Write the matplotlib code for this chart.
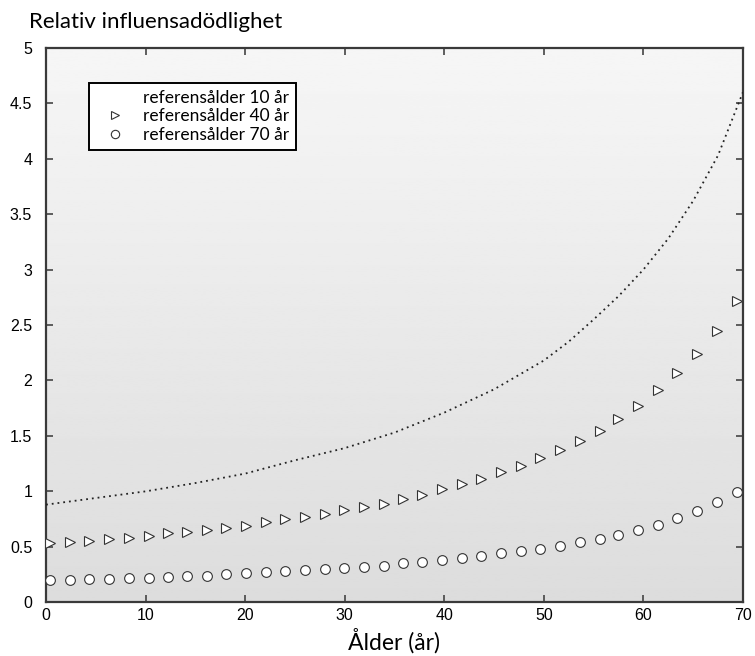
import numpy as np
import matplotlib
matplotlib.use("Agg")
import matplotlib.pyplot as plt
from matplotlib.lines import Line2D

# --- data ---
line_ages = [0, 5, 10, 15, 20, 25, 30, 35, 40, 45, 50, 52.5, 55, 57.5, 60, 62.5, 65, 67.5, 70]
ref10 = [0.88, 0.94, 1.00, 1.075, 1.16, 1.28, 1.39, 1.53, 1.71, 1.92, 2.18, 2.35,
         2.55, 2.76, 3.00, 3.28, 3.62, 4.03, 4.60]

marker_ages = [0.4, 2.4, 4.3, 6.3, 8.3, 10.3, 12.2, 14.2, 16.2, 18.1, 20.1, 22.1,
               24.0, 26.0, 28.0, 29.9, 31.9, 33.9, 35.9, 37.8, 39.8, 41.8, 43.7,
               45.7, 47.7, 49.6, 51.6, 53.6, 55.6, 57.5, 59.5, 61.5, 63.4, 65.4,
               67.4, 69.4]
ref40 = [0.53, 0.54, 0.55, 0.57, 0.58, 0.60, 0.62, 0.63, 0.65, 0.67, 0.69, 0.72,
         0.75, 0.77, 0.80, 0.83, 0.86, 0.89, 0.93, 0.97, 1.02, 1.07, 1.11, 1.17,
         1.23, 1.30, 1.37, 1.45, 1.54, 1.65, 1.77, 1.91, 2.07, 2.24, 2.45, 2.72]
ref70 = [0.20, 0.20, 0.21, 0.21, 0.22, 0.22, 0.23, 0.24, 0.24, 0.25, 0.26, 0.27,
         0.28, 0.29, 0.30, 0.31, 0.32, 0.33, 0.35, 0.36, 0.38, 0.40, 0.42, 0.44,
         0.46, 0.48, 0.51, 0.54, 0.57, 0.61, 0.65, 0.70, 0.76, 0.82, 0.90, 0.99]

labels = ["referensålder 10 år", "referensålder 40 år", "referensålder 70 år"]
xticks = [0, 10, 20, 30, 40, 50, 60, 70]
yticks = [0, 0.5, 1, 1.5, 2, 2.5, 3, 3.5, 4, 4.5, 5]
ytick_labels = ["0", "0.5", "1", "1.5", "2", "2.5", "3", "3.5", "4", "4.5", "5"]

text_font = ["Lato", "DejaVu Sans"]
tick_font = ["Liberation Sans", "DejaVu Sans"]

fig = plt.figure(figsize=(7.55, 6.56), dpi=100)
ax = fig.add_axes([0.061, 0.082, 0.923, 0.845])

# gradient background
grad = np.linspace(0.965, 0.865, 256).reshape(-1, 1)
ax.imshow(grad, extent=[0, 1, 0, 1], transform=ax.transAxes, cmap="gray",
          vmin=0, vmax=1, aspect="auto", zorder=0, origin="upper")

ax.plot(line_ages, ref10, linestyle=(0, (1, 2.2)), color="#222222", lw=1.3, zorder=3)
ax.plot(marker_ages, ref40, linestyle="none", marker=">", ms=7, mfc="white",
        mec="#333333", mew=0.8, zorder=3)
ax.plot(marker_ages, ref70, linestyle="none", marker="o", ms=7, mfc="white",
        mec="#333333", mew=0.8, zorder=3)

ax.set_xlim(0, 70)
ax.set_ylim(0, 5)
ax.set_xticks(xticks)
ax.set_xticklabels([str(t) for t in xticks], family=tick_font, fontsize=11.5)
ax.set_yticks(yticks)
ax.set_yticklabels(ytick_labels, family=tick_font, fontsize=11.5)
ax.tick_params(direction="in", length=5, width=1.2, top=True, right=True,
               color="#444444", pad=4)
ax.tick_params(axis="y", pad=10)
for s in ax.spines.values():
    s.set_color("#3a3a3a")
    s.set_linewidth(1.6)

ax.set_xlabel("Ålder (år)", family=text_font, fontsize=16.5, labelpad=4)
fig.text(0.038, 0.966, "Relativ influensadödlighet", family=text_font, fontsize=16,
         ha="left", va="center")

handles = [Line2D([], [], color="none"),
           Line2D([], [], linestyle="none", marker=">", ms=6, mfc="white", mec="#333333", mew=0.8),
           Line2D([], [], linestyle="none", marker="o", ms=6, mfc="white", mec="#333333", mew=0.8)]
leg = ax.legend(handles, labels, loc="upper left", bbox_to_anchor=(0.062, 0.937),
                prop={"family": text_font, "size": 12.5}, fancybox=False,
                framealpha=1, edgecolor="black", handlelength=2.2,
                handletextpad=0.5, labelspacing=0.15, borderpad=0.4,
                borderaxespad=0)
leg.get_frame().set_linewidth(1.4)

fig.savefig("out.png", dpi=100)
